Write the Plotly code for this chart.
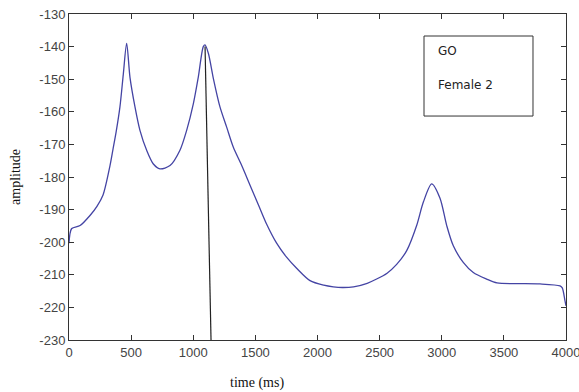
import plotly.graph_objects as go

# Amplitude envelope for speaker "Female 2", word "GO"
time_ms = [0, 22, 89, 169, 225, 274, 330, 354, 380, 410, 437, 464, 491, 531, 571,
           625, 679, 732, 813, 893, 947, 1001, 1041, 1081, 1095, 1122, 1162, 1215,
           1269, 1322, 1390, 1457, 1524, 1591, 1671, 1751, 1832, 1940, 2050, 2127,
           2200, 2290, 2400, 2476, 2560, 2637, 2718, 2798, 2852, 2919, 2986, 3040,
           3093, 3173, 3254, 3361, 3445, 3600, 3791, 3952, 3970, 3992, 4000]
amplitude = [-200.3, -195.8, -194.9, -191.8, -189.0, -185.5, -176.5, -171.5, -166.0,
             -158.5, -148.5, -139.0, -149.5, -158.5, -165.7, -171.8, -176.0, -177.5,
             -176.5, -171.8, -165.7, -157.5, -149.3, -140.0, -139.5, -142.1, -149.8,
             -158.5, -164.7, -170.8, -176.5, -182.5, -188.5, -194.5, -200.3, -204.6,
             -208.0, -211.8, -213.2, -213.7, -213.9, -213.7, -212.6, -211.3, -209.5,
             -206.8, -202.6, -194.9, -187.7, -182.1, -186.5, -194.9, -201.1, -206.2,
             -209.3, -211.3, -212.5, -212.7, -212.8, -213.4, -214.0, -218.0, -219.5]

# Marker line drawn down from the second peak
marker_t = [1095, 1143]
marker_a = [-140, -230]

x_ticks = [0, 500, 1000, 1500, 2000, 2500, 3000, 3500, 4000]
y_ticks = [-130, -140, -150, -160, -170, -180, -190, -200, -210, -220, -230]

fig = go.Figure()
fig.add_trace(go.Scatter(x=time_ms, y=amplitude, mode="lines",
                         line=dict(color="#4444a4", width=1.3, shape="spline",
                                   smoothing=0.8),
                         hoverinfo="skip"))
fig.add_trace(go.Scatter(x=marker_t, y=marker_a, mode="lines",
                         line=dict(color="#222222", width=1.2), hoverinfo="skip"))

axis_common = dict(showgrid=False, zeroline=False, showline=True, linecolor="#333333",
                   linewidth=1, mirror="ticks", ticks="inside", ticklen=5,
                   tickcolor="#333333", automargin=False,
                   tickfont=dict(family="Liberation Sans, Arial", size=13, color="#444444"))

fig.update_xaxes(range=[0, 4000], tickvals=x_ticks, ticklabeloverflow="allow",
                 ticktext=[str(v) for v in x_ticks], **axis_common)
fig.update_yaxes(range=[-230, -130], tickvals=y_ticks,
                 ticktext=[str(v) for v in y_ticks], **axis_common)

fig.add_shape(type="rect", xref="paper", yref="paper", x0=0.7143, x1=0.9336,
              y0=0.687, y1=0.9325, line=dict(color="#333333", width=1),
              fillcolor="white")

legend_font = dict(family="DejaVu Sans", size=12, color="#222222")
fig.add_annotation(text="GO", xref="paper", yref="paper", x=0.7384, y=0.8874,
                   xanchor="left", yanchor="middle", showarrow=False, font=legend_font)
fig.add_annotation(text="Female 2", xref="paper", yref="paper", x=0.7384, y=0.782,
                   xanchor="left", yanchor="middle", showarrow=False, font=legend_font)

title_font = dict(family="Liberation Serif, Times New Roman", size=14, color="#111111")
fig.add_annotation(text="time (ms)", xref="paper", yref="paper", x=0.378, y=-0.132,
                   xanchor="center", yanchor="middle", showarrow=False, font=title_font)
fig.add_annotation(text="amplitude", xref="paper", yref="paper", x=-0.1087, y=0.5,
                   xanchor="center", yanchor="middle", textangle=-90, showarrow=False,
                   font=title_font)

fig.update_layout(width=579, height=392, showlegend=False,
                  margin=dict(l=69, r=13, t=14, b=52, autoexpand=False),
                  paper_bgcolor="white", plot_bgcolor="white")

fig.write_html("out.html")
